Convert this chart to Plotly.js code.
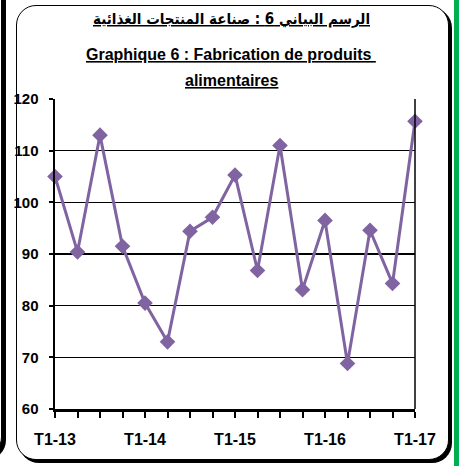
<!DOCTYPE html>
<html>
<head>
<meta charset="utf-8">
<script src="https://cdn.plot.ly/plotly-3.0.1.min.js"></script>
<style>
  html, body { margin: 0; padding: 0; background: #ffffff; }
  #wrap { position: relative; width: 462px; height: 466px; overflow: hidden; background: #fff; }
  .frame { position: absolute; box-sizing: border-box; border: 1.5px solid #000; border-radius: 20px; background: #fff; }
  #chart { position: absolute; left: 0; top: 0; width: 462px; height: 466px; }
</style>
</head>
<body>
<div id="wrap">
  <div class="frame" style="left:-400px; top:-40px; width:402px; height:497px; box-shadow:4px 3px 0 #000;"></div>
  <div class="frame" style="left:16px; top:5px; width:433px; height:455px; box-shadow:3px 3px 0 #000;"></div>
  <div style="position:absolute; left:454px; top:0; width:5px; height:466px; background:#00b050;"></div>
  <div id="chart"></div>
</div>
<script>
// Data
const quarters = [
  "T1-13","T2-13","T3-13","T4-13",
  "T1-14","T2-14","T3-14","T4-14",
  "T1-15","T2-15","T3-15","T4-15",
  "T1-16","T2-16","T3-16","T4-16",
  "T1-17"
];
const values = [105.0, 90.4, 113.0, 91.5, 80.5, 73.0, 94.4, 97.1, 105.3, 86.8, 111.0, 83.1, 96.5, 68.8, 94.6, 84.3, 115.7];
const shownTickLabels = ["T1-13","T1-14","T1-15","T1-16","T1-17"];
const yTicks = [60, 70, 80, 90, 100, 110, 120];
const titleArabic = "الرسم البياني 6 : صناعة المنتجات الغذائية";
const titleFr1 = "Graphique 6 : Fabrication de produits ";
const titleFr2 = "alimentaires";

const tickText = quarters.map(q => shownTickLabels.includes(q) ? q : "");

const trace = {
  x: quarters,
  y: values,
  type: "scatter",
  mode: "lines+markers",
  line: { color: "#8064a2", width: 3 },
  marker: { symbol: "diamond", size: 12, color: "#8064a2" },
  cliponaxis: false,
  hoverinfo: "skip"
};

const fontFam = "Liberation Sans, Arial, DejaVu Sans, sans-serif";
const arabicFam = "DejaVu Sans Condensed, DejaVu Sans, sans-serif";

const layout = {
  width: 462,
  height: 466,
  margin: { l: 55, r: 47, t: 99, b: 57 },
  paper_bgcolor: "rgba(0,0,0,0)",
  plot_bgcolor: "rgba(0,0,0,0)",
  showlegend: false,
  xaxis: {
    type: "category",
    range: [0, quarters.length - 1],
    tickmode: "array",
    tickvals: quarters,
    ticktext: tickText,
    ticks: "outside",
    ticklen: 6,
    tickwidth: 2,
    tickcolor: "#000",
    showline: true,
    linecolor: "#000",
    linewidth: 2.5,
    showgrid: false,
    zeroline: false,
    tickfont: { family: fontFam, size: 16, color: "#000", weight: "bold" },
    ticklabelstandoff: 8
  },
  yaxis: {
    range: [60, 120],
    tickmode: "array",
    tickvals: yTicks,
    ticktext: yTicks.map(String),
    ticks: "outside",
    ticklen: 4,
    tickwidth: 2,
    tickcolor: "#000",
    showline: true,
    linecolor: "#000",
    linewidth: 2.5,
    showgrid: true,
    gridcolor: "#000",
    gridwidth: 1.5,
    zeroline: false,
    tickfont: { family: fontFam, size: 15, color: "#000", weight: "bold" },
    ticklabelstandoff: 7
  },
  shapes: [
    { type: "line", xref: "paper", yref: "paper", x0: 1, x1: 1, y0: 0, y1: 1,
      line: { color: "#000", width: 1.5 } }
  ],
  annotations: [
    { text: "<b><u>" + titleArabic + "</u></b>", xref: "paper", yref: "paper",
      x: 0.49, y: 1.258, xanchor: "center", yanchor: "middle", showarrow: false,
      font: { family: arabicFam, size: 15, color: "#000" } },
    { text: "<b><u>" + titleFr1 + "</u></b>", xref: "paper", yref: "paper",
      x: 0.49, y: 1.142, xanchor: "center", yanchor: "middle", showarrow: false,
      font: { family: fontFam, size: 16, color: "#000" } },
    { text: "<b><u>" + titleFr2 + "</u></b>", xref: "paper", yref: "paper",
      x: 0.49, y: 1.061, xanchor: "center", yanchor: "middle", showarrow: false,
      font: { family: fontFam, size: 16, color: "#000" } }
  ]
};

Plotly.newPlot("chart", [trace], layout, { staticPlot: true, displayModeBar: false });
</script>
</body>
</html>
